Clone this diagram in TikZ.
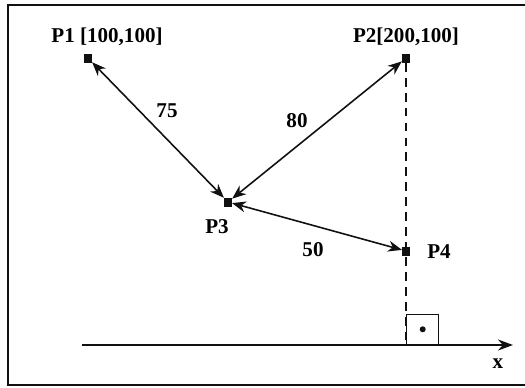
\documentclass[tikz,border=0pt]{standalone}
\usepackage{fontspec}
\setmainfont{Liberation Serif}
\usetikzlibrary{arrows.meta}
\definecolor{darkline}{HTML}{111111}
\tikzset{
  frame/.style={line width=1.1pt, draw=darkline},
  pointbox/.style={rectangle, fill=darkline, inner sep=0pt, minimum size=0.18cm},
  ptlabel/.style={font=\fontsize{12}{14}\selectfont\bfseries, inner sep=1pt},
  dist/.style={{Stealth[length=2.8mm, width=2.2mm]}-{Stealth[length=2.8mm, width=2.2mm]}, line width=0.9pt, draw=darkline, shorten <=-0.5pt, shorten >=-0.5pt},
  guide/.style={dash pattern=on 5pt off 3.5pt, line width=0.8pt, draw=darkline},
  axis/.style={-{Stealth[length=3mm, width=2.2mm]}, line width=1pt, draw=darkline},
  rightangle/.style={rectangle, draw=darkline, line width=0.8pt, inner sep=0pt, minimum width=0.64cm, minimum height=0.6cm}
}

\begin{document}
\begin{tikzpicture}[x=0.02cm, y=-0.02cm]

\useasboundingbox (0,0) rectangle (525,387);
\draw[frame] (540,5) -- (8,5) -- (8,385) -- (540,385);

% points
\node[pointbox] (p1) at (88,58) {};
\node[pointbox] (p2) at (406,58) {};
\node[pointbox] (p3) at (228,202) {};
\node[pointbox] (p4) at (406,251) {};

\node[ptlabel] (p1name) at (107,37) {P1 [100,100]};
\node[ptlabel] (p2name) at (406,37) {P2[200,100]};
\node[ptlabel] (p3name) at (217,227) {P3};
\node[ptlabel] (p4name) at (439,252) {P4};

% distances
\draw[dist] (p1) -- (p3);
\draw[dist] (p2) -- (p3);
\draw[dist] (p3) -- (p4);

\node[ptlabel] (d13) at (167,111) {75};
\node[ptlabel] (d23) at (297,121) {80};
\node[ptlabel] (d34) at (313,250) {50};

% x axis and projection
\coordinate (xstart) at (82,345);
\coordinate (xend) at (513,345);
\coordinate (foot) at (406,345);
\draw[axis] (xstart) -- (xend);
\node[ptlabel] (xname) at (498,364) {x};

\draw[guide] (p2) -- (foot);
\node[rightangle, anchor=south west] (corner) at (foot) {};
\fill[darkline] (corner.center) circle (0.06cm);

\end{tikzpicture}
\end{document}
